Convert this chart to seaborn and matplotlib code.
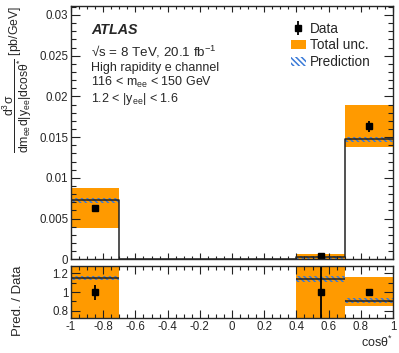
import numpy as np
import seaborn as sns
from matplotlib import pyplot as plt
from matplotlib.patches import Patch
from matplotlib.ticker import MultipleLocator, FuncFormatter

sns.set_style("ticks")
plt.rcParams['font.family'] = ['Liberation Sans', 'DejaVu Sans']
plt.rcParams['mathtext.fontset'] = 'custom'
plt.rcParams['mathtext.rm'] = 'Liberation Sans'
plt.rcParams['mathtext.it'] = 'Liberation Sans:italic'
plt.rcParams['mathtext.bf'] = 'Liberation Sans:bold'
plt.rcParams['axes.unicode_minus'] = False
plt.rcParams['hatch.linewidth'] = 1.1

# bins in cos(theta*)
bin_lo = [-1.0, -0.7, 0.4, 0.7]
bin_hi = [-0.7, 0.4, 0.7, 1.0]
has_data = [True, False, True, True]

# main panel [pb/GeV]
data = [0.0063, 0.0, 0.00035, 0.01633]
data_err = [0.0004, 0.0, 0.0003, 0.0007]
unc_lo = [0.00383, 0.0, 0.0, 0.01378]
unc_hi = [0.00877, 0.0, 0.00068, 0.01896]
pred = [0.00723, 0.0, 0.00025, 0.01473]
pred_w = [0.0003, 0.0, 0.0002, 0.0003]

# ratio panel
r_data = [1.0, 0.0, 1.0, 1.0]
r_err = [0.08, 0.0, 1.0, 0.03]
r_unc_lo = [0.5, 0.0, 0.5, 0.853]
r_unc_hi = [1.5, 0.0, 1.5, 1.16]
r_pred = [1.15, 0.0, 1.14, 0.907]
r_pred_w = [0.025, 0.0, 0.035, 0.025]

orange = '#ff9a00'
blue = '#3a7ad8'
hatch = '\\' * 6


def fmt(v, p):
    v = round(v, 3)
    return '0' if v == 0 else f'{v:g}'


fig = plt.figure(figsize=(3.99, 3.53), dpi=100)
ax = fig.add_axes([0.178, 0.2655, 0.807, 0.7175])
rax = fig.add_axes([0.178, 0.0985, 0.807, 0.148])

lo = np.array(bin_lo)
hi = np.array(bin_hi)
wid = hi - lo
cen = (lo + hi) / 2
m = np.array(has_data)

# total uncertainty
ax.bar(lo[m], np.array(unc_hi)[m] - np.array(unc_lo)[m], bottom=np.array(unc_lo)[m],
       width=wid[m], align='edge', color=orange, lw=0, zorder=1)
rax.bar(lo[m], np.array(r_unc_hi)[m] - np.array(r_unc_lo)[m], bottom=np.array(r_unc_lo)[m],
        width=wid[m], align='edge', color=orange, lw=0, zorder=1)

# prediction
pw = np.array(pred_w)[m]
ax.bar(lo[m], 2 * pw, bottom=np.array(pred)[m] - pw, width=wid[m], align='edge',
       facecolor='none', edgecolor=blue, hatch=hatch, lw=0, zorder=2)
step_x = list(bin_lo) + [bin_hi[-1]]
step_y = list(pred) + [pred[-1]]
sns.lineplot(x=step_x, y=step_y, drawstyle='steps-post', color='#222222', lw=1.1,
             ax=ax, zorder=3)
rpw = np.array(r_pred_w)[m]
rax.bar(lo[m], 2 * rpw, bottom=np.array(r_pred)[m] - rpw, width=wid[m], align='edge',
        facecolor='none', edgecolor=blue, hatch=hatch, lw=0, zorder=2)
rax.hlines(np.array(r_pred)[m], lo[m], hi[m], color='#222222', lw=1.1, zorder=3)

# data
eb = ax.errorbar(cen[m], np.array(data)[m], yerr=np.array(data_err)[m], fmt='s', color='black',
                 ms=5, elinewidth=1.3, capsize=0, zorder=5)
rax.errorbar(cen[m], np.array(r_data)[m], yerr=np.array(r_err)[m], fmt='s', color='black',
             ms=5, elinewidth=1.3, capsize=0, zorder=5)

# axes
for a in (ax, rax):
    a.set_xlim(-1, 1)
    a.xaxis.set_major_locator(MultipleLocator(0.2))
    a.xaxis.set_minor_locator(MultipleLocator(0.05))
    a.xaxis.set_major_formatter(FuncFormatter(fmt))
    a.yaxis.set_major_formatter(FuncFormatter(fmt))
    a.tick_params(which='both', direction='in', top=True, right=True, labelsize=8.3,
                  pad=2, width=0.8, color='#222222')
    for s in a.spines.values():
        s.set_linewidth(1.0)
        s.set_zorder(10)
    a.set_axisbelow(False)

ax.set_ylim(0, 0.0311)
ax.yaxis.set_major_locator(MultipleLocator(0.005))
ax.yaxis.set_minor_locator(MultipleLocator(0.001))
ax.tick_params(axis='x', labelbottom=False)
ax.tick_params(axis='y', which='major', length=6.5)
ax.tick_params(axis='y', which='minor', length=3.3)
ax.tick_params(axis='x', which='major', length=4.5)
ax.tick_params(axis='x', which='minor', length=2.5)

rax.set_ylim(0.72, 1.28)
rax.yaxis.set_major_locator(MultipleLocator(0.2))
rax.yaxis.set_minor_locator(MultipleLocator(0.1))
rax.tick_params(axis='y', which='major', length=6.5)
rax.tick_params(axis='y', which='minor', length=3.3)
rax.tick_params(axis='x', which='major', length=5.5)
rax.tick_params(axis='x', which='minor', length=3)

ax.set_ylabel(r'$\dfrac{\mathrm{d^{3}σ}}{\mathrm{dm_{ee}d|y_{ee}|dcosθ^{*}}}$ [pb/GeV]',
              fontsize=8.8, loc='top')
ax.yaxis.set_label_coords(-0.115, 1.0)
rax.set_ylabel('Pred. / Data', fontsize=9.5, loc='top')
rax.yaxis.set_label_coords(-0.145, 1.0)
rax.set_xlabel(r'cosθ$^{*}$', fontsize=9, loc='right', labelpad=1)

# labels
ax.text(0.063, 0.905, 'ATLAS', transform=ax.transAxes, fontsize=10.3,
        fontweight='bold', fontstyle='italic', va='center')
ax.text(0.063, 0.82, r'√s = 8 TeV, 20.1 fb$^{-1}$', transform=ax.transAxes,
        fontsize=9.6, va='center')
ax.text(0.063, 0.757, 'High rapidity e channel', transform=ax.transAxes, fontsize=9,
        va='center')
ax.text(0.063, 0.697, r'116 < m$_{\mathrm{ee}}$ < 150 GeV', transform=ax.transAxes,
        fontsize=9, va='center')
ax.text(0.063, 0.633, r'1.2 < |y$_{\mathrm{ee}}$| < 1.6', transform=ax.transAxes,
        fontsize=9, va='center')

handles = [eb, Patch(facecolor=orange, lw=0),
           Patch(facecolor='none', edgecolor=blue, hatch=hatch, lw=0)]
ax.legend(handles, ['Data', 'Total unc.', 'Prediction'], loc='upper left',
          bbox_to_anchor=(0.683, 0.938), frameon=False, fontsize=9.8, handlelength=1.1,
          handletextpad=0.3, borderpad=0, borderaxespad=0, labelspacing=0.2)

fig.savefig('out.png', dpi=100)
